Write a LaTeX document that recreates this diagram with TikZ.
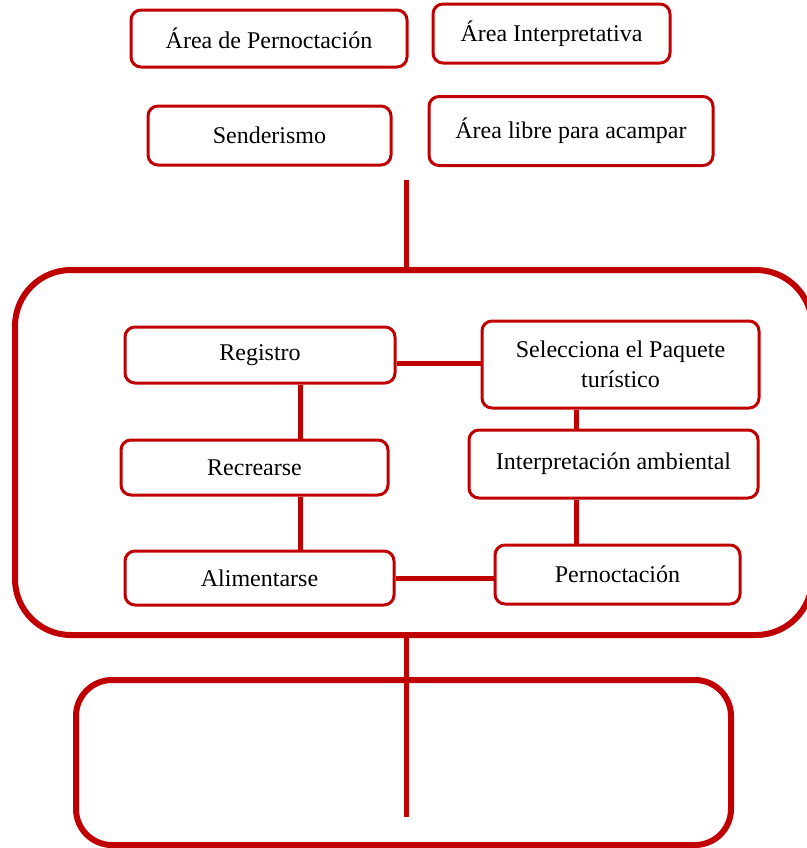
\documentclass[tikz,border=0pt]{standalone}
\usepackage{fontspec}
\setmainfont{Liberation Serif}
\usetikzlibrary{calc}
\definecolor{rojo}{RGB}{192,0,0}
\tikzset{
  caja/.style={draw=rojo, line width=1.5pt, rounded corners=5pt, align=center,
    inner sep=2pt, font=\fontsize{12}{15}\selectfont},
  marco/.style={draw=rojo, line width=3pt, inner sep=0pt},
  enlace/.style={draw=rojo, line width=2.5pt}
}
\begin{document}
\begin{tikzpicture}[x=0.5pt, y=-0.5pt]
    \useasboundingbox (0,0) rectangle (807,848);

    % Marcos grandes
    \node[marco, rounded corners=28pt, minimum width=398.5pt, minimum height=182.5pt] (proceso) at (413.5,452.5) {};
    \node[marco, rounded corners=18pt, minimum width=327.5pt, minimum height=82.5pt] (resultado) at (403.5,762.5) {};

    % Areas de arriba
    \node[caja, minimum width=138pt, minimum height=28.5pt] (pernocta) at (269,38.5) {Área de Pernoctación};
    \node[caja, minimum width=118.5pt, minimum height=29.5pt] (interpreta) at (551.5,33.5) {Área Interpretativa};
    \node[caja, minimum width=121.5pt, minimum height=29.5pt] (sender) at (269.5,135.5) {Senderismo};
    \node[caja, minimum width=142pt, minimum height=34.5pt] (acampar) at (571,131) {Área libre para acampar};

    % Pasos del proceso
    \node[caja, minimum width=135pt, minimum height=28pt] (registro) at (260,355) {Registro};
    \node[caja, minimum width=138.5pt, minimum height=43.5pt] (paquete) at (620.5,364.5) {Selecciona el Paquete\\turístico};
    \node[caja, minimum width=133.5pt, minimum height=27.5pt] (recrearse) at (254.5,467.5) {Recrearse};
    \node[caja, minimum width=144.5pt, minimum height=34pt] (ambiental) at (613.5,464) {Interpretación ambiental};
    \node[caja, minimum width=134.5pt, minimum height=27pt] (alimento) at (259.5,578) {Alimentarse};
    \node[caja, minimum width=122.5pt, minimum height=29.5pt] (noche) at (617.5,574.5) {Pernoctación};

    % Lineas
    \coordinate (arriba) at (406,180);
    \coordinate (abajo) at (406,817);
    \draw[enlace] (arriba) -- (arriba |- proceso.north);
    \draw[enlace] (proceso.south -| abajo) -- (abajo);
    \draw[enlace] ([yshift=-4pt]registro.east) -- ([yshift=-4pt]registro.east -| paquete.west);
    \draw[enlace] ([xshift=20pt]registro.south) -- ([xshift=20pt]registro.south |- recrearse.north);
    \draw[enlace] ([xshift=22.75pt]recrearse.south) -- ([xshift=22.75pt]recrearse.south |- alimento.north);
    \draw[enlace] ([xshift=-22.25pt]paquete.south) -- ([xshift=-22.25pt]paquete.south |- ambiental.north);
    \draw[enlace] ([xshift=-18.75pt]ambiental.south) -- ([xshift=-18.75pt]ambiental.south |- noche.north);
    \draw[enlace] (alimento.east) -- (alimento.east -| noche.west);
\end{tikzpicture}
\end{document}
